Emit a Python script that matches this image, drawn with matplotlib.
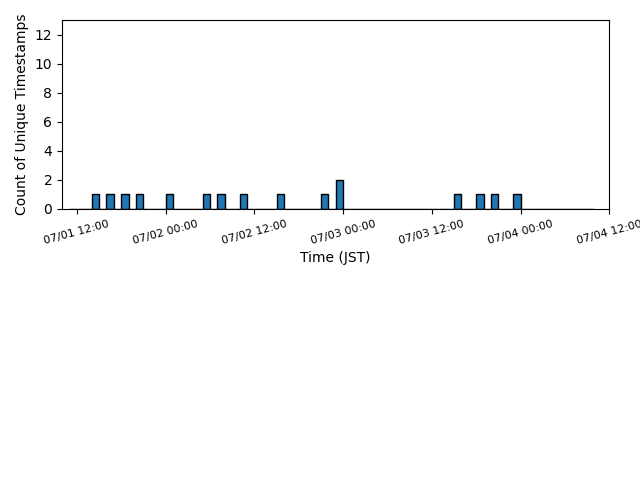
import matplotlib
matplotlib.use('Agg')
import matplotlib.pyplot as plt
import matplotlib.dates as mdates
import pandas as pd

# hourly bins holding at least one unique timestamp (JST)
hours = ['2024-07-01 14:00', '2024-07-01 16:00', '2024-07-01 18:00', '2024-07-01 20:00',
         '2024-07-02 00:00', '2024-07-02 05:00', '2024-07-02 07:00', '2024-07-02 10:00',
         '2024-07-02 15:00', '2024-07-02 21:00', '2024-07-02 23:00',
         '2024-07-03 15:00', '2024-07-03 18:00', '2024-07-03 20:00', '2024-07-03 23:00']
counts = [1, 1, 1, 1, 1, 1, 1, 1, 1, 1, 2, 1, 1, 1, 1]

bin_start = '2024-07-01 11:00'
bin_end = '2024-07-04 10:00'

times = mdates.date2num(pd.to_datetime(hours))
edges = mdates.date2num(pd.date_range(bin_start, bin_end, freq='h'))

fig = plt.figure(figsize=(6.4, 4.8), dpi=100)
ax = fig.add_axes([0.097, 0.565, 0.855, 0.393])

ax.hist(times, bins=edges, weights=counts, edgecolor='black')

ax.set_xlim(mdates.date2num(pd.Timestamp('2024-07-01 10:00')),
            mdates.date2num(pd.Timestamp('2024-07-04 12:00')))
ax.set_ylim(0, 13)
ax.set_yticks(range(0, 13, 2))

ax.xaxis.set_major_locator(mdates.HourLocator(byhour=[0, 12]))
ax.xaxis.set_major_formatter(mdates.DateFormatter('%m/%d %H:%M'))
plt.setp(ax.get_xticklabels(), rotation=15, fontsize=8)

ax.set_xlabel('Time (JST)')
ax.set_ylabel('Count of Unique Timestamps')

fig.savefig('out.png', dpi=100)
